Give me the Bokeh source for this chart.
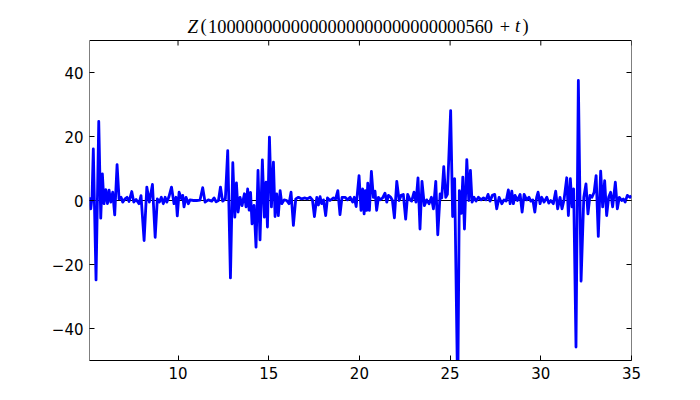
from bokeh.plotting import figure
from bokeh.models import Range1d, Span, Label, FixedTicker, LinearAxis
from bokeh.embed import file_html
from bokeh.resources import INLINE

# values
t_vals = [5.12, 5.19, 5.26, 5.33, 5.48, 5.63, 5.74, 5.83, 5.92, 6.02, 6.11, 6.20, 6.29, 6.40, 6.51, 6.64,
          6.75, 6.86, 6.95, 7.08, 7.19, 7.30, 7.45, 7.56, 7.69, 7.85, 7.96, 8.13, 8.28, 8.42, 8.59, 8.74,
          8.86, 8.97, 9.08, 9.19, 9.29, 9.38, 9.49, 9.64, 9.78, 9.89, 9.96, 10.06, 10.19, 10.26, 10.33,
          10.44, 10.57, 10.66, 10.85, 11.03, 11.21, 11.36, 11.49, 11.67, 11.86, 11.99, 12.10, 12.23, 12.34,
          12.46, 12.61, 12.74, 12.89, 13.02, 13.13, 13.22, 13.31, 13.42, 13.53, 13.66, 13.75, 13.84, 13.92,
          14.00, 14.08, 14.19, 14.30, 14.41, 14.52, 14.65, 14.76, 14.85, 14.93, 15.04, 15.15, 15.26, 15.35,
          15.44, 15.53, 15.63, 15.72, 15.85, 15.99, 16.12, 16.23, 16.36, 16.49, 16.64, 16.82, 17.00, 17.13,
          17.28, 17.41, 17.52, 17.65, 17.74, 17.83, 17.92, 18.02, 18.14, 18.24, 18.38, 18.57, 18.69, 18.81,
          18.93, 19.04, 19.21, 19.34, 19.49, 19.63, 19.72, 19.82, 19.98, 20.09, 20.18, 20.26, 20.33, 20.40,
          20.46, 20.55, 20.66, 20.77, 20.86, 20.95, 21.05, 21.14, 21.28, 21.41, 21.51, 21.60, 21.73, 21.82,
          21.93, 22.06, 22.19, 22.30, 22.42, 22.55, 22.66, 22.79, 22.88, 23.01, 23.12, 23.23, 23.34, 23.45,
          23.58, 23.71, 23.84, 23.97, 24.08, 24.21, 24.32, 24.45, 24.54, 24.65, 24.76, 24.85, 25.03, 25.14,
          25.25, 25.42, 25.51, 25.62, 25.70, 25.79, 25.92, 26.03, 26.12, 26.21, 26.32, 26.43, 26.56, 26.71,
          26.84, 26.98, 27.09, 27.20, 27.33, 27.46, 27.57, 27.70, 27.85, 27.97, 28.09, 28.21, 28.31, 28.40,
          28.49, 28.58, 28.71, 28.86, 28.97, 29.08, 29.22, 29.35, 29.45, 29.56, 29.67, 29.77, 29.85, 29.96,
          30.05, 30.18, 30.33, 30.44, 30.55, 30.69, 30.82, 30.93, 31.06, 31.17, 31.28, 31.43, 31.52, 31.63,
          31.72, 31.81, 31.94, 32.07, 32.22, 32.37, 32.49, 32.60, 32.71, 32.82, 32.94, 33.05, 33.17, 33.30,
          33.41, 33.52, 33.63, 33.74, 33.85, 33.96, 34.11, 34.22, 34.33, 34.46, 34.55, 34.65, 34.77, 34.92,
          35.00]
z_vals = [1.0, -2.6, 1.0, 16.1, -24.8, 24.7, -5.5, 8.3, -1.0, 3.4, -1.0, 3.2, -0.5, 2.6, -4.5, 11.2,
          0.5, 1.0, -0.5, 0.5, 1.0, -0.3, 2.8, -0.5, 0.3, -1.0, 1.5, -12.5, 4.2, -0.5, 5.0, -11.5,
          0.5, -0.5, 1.0, -1.0, 1.0, -0.5, 1.0, 4.2, -1.0, 1.0, -4.8, 2.6, 0.5, 1.6, -2.0,
          1.0, -1.0, 0.2, 0.0, 0.0, 0.1, 4.0, -0.5, 0.2, -0.2, 0.8, -0.4, 0.0, 4.2,
          -0.2, 0.5, 15.6, -24.2, 11.8, -5.2, 5.5, -3.6, 1.0, -1.6, 2.1, -2.0, 3.6, -3.0,
          2.5, -7.3, -1.5, -14.6, 9.4, -12.3, 12.7, -5.2, 5.7, -8.3, 19.8, -2.0, 12.0, -5.0,
          2.1, -4.7, 3.1, -1.0, 0.2, 0.0, -1.0, 2.6, -7.8, 0.5, 1.0, 0.5, 0.8, 0.5,
          1.0, 0.2, -5.0, 1.0, -1.4, 1.2, -1.0, 0.2, -4.7, 0.8, 0.0, 0.8, 0.5, 3.1,
          -4.4, 1.0, 1.0, 0.2, 1.0, -0.5, 1.0, -1.9, 7.8, -3.1, 3.6, -4.2, 3.1, -3.1,
          5.4, -3.1, 9.1, 1.0, 2.9, -3.1, 1.0, 0.2, 0.8, 2.3, -0.5, 1.6, 1.0, 0.0,
          -5.4, 6.0, 0.0, 1.6, 1.9, -5.8, 1.9, 0.2, -0.2, 2.6, -0.5, 7.1, -8.9, 6.0,
          -1.6, 0.2, -1.0, 1.0, -2.6, 6.0, -10.7, 2.1, 0.8, 10.6, 1.0, 1.9, 28.1, -5.0,
          6.8, -62.0, 3.1, -4.0, 7.3, -8.9, 12.8, 0.0, 9.4, -0.5, 1.0, -0.2, 1.0, 0.2,
          0.8, 0.2, 1.9, -0.2, 1.6, 1.9, -2.6, 1.0, -1.0, 0.2, -0.2, 3.3, -1.0, 2.9,
          -1.0, 1.6, 0.0, 1.9, -3.6, 1.9, 0.2, 1.0, -0.2, 0.2, -3.6, 1.0, 2.6, -1.0,
          1.0, -0.5, 1.0, -0.8, 0.0, -1.0, 2.9, -2.6, 1.0, -2.6, 0.2, 7.1, -4.7, 6.8,
          -2.0, 3.6, -45.8, 37.5, -25.2, 1.0, 5.2, -4.2, 1.6, 1.0, 2.6, 7.8, -11.2, 9.2,
          -2.0, 6.2, -4.7, 1.0, 2.6, -2.0, 5.7, -2.6, 1.0, 0.0, 0.5, -0.5, 1.6, 1.0,
          1.5]

x_ticks = [10, 15, 20, 25, 30, 35]
y_ticks = [-40, -20, 0, 20, 40]
x_lim = (5.12, 35.0)
y_lim = (-50.0, 50.0)
title_number = "1" + "0" * 27 + "560"

W, H = 684, 384
frame_left, frame_top_px, frame_bottom_px = 89, 8, 360      # page pixels of the bokeh frame
axes_top_px = 40                                             # page pixel of the drawn box top
px_per_unit = (frame_bottom_px - axes_top_px) / (y_lim[1] - y_lim[0])
y_end = y_lim[0] + (frame_bottom_px - frame_top_px) / px_per_unit

p = figure(width=W, height=H, output_backend="svg", toolbar_location=None,
           x_range=Range1d(*x_lim), y_range=Range1d(y_lim[0], y_end),
           min_border_left=frame_left, min_border_right=53, min_border_top=frame_top_px,
           min_border_bottom=24)
p.background_fill_color = "white"
p.border_fill_color = "white"
p.outline_line_color = None
p.xgrid.visible = False
p.ygrid.visible = False

def style_axis(ax, ticks, labels=True, line=True):
    ax.ticker = FixedTicker(ticks=ticks)
    ax.axis_line_color = "black" if line else None
    ax.major_tick_in = 5
    ax.major_tick_out = 0
    ax.minor_tick_in = 0
    ax.minor_tick_out = 0
    ax.major_tick_line_color = "black"
    ax.major_label_text_font = "DejaVu Sans"
    ax.major_label_text_font_size = "15px"
    ax.major_label_text_color = "black" if labels else None
    ax.major_label_standoff = 6

style_axis(p.xaxis[0], x_ticks)
style_axis(p.yaxis[0], y_ticks, line=False)
right = LinearAxis()
style_axis(right, y_ticks, labels=False, line=False)
p.add_layout(right, "right")

# axes box and top ticks (the frame extends above the box to hold the title)
p.quad(left=[x_lim[0]], right=[x_lim[1]], bottom=[y_lim[0]], top=[y_lim[1]],
       fill_color=None, line_color="black", line_width=1)
tick_len = 5 / px_per_unit
p.segment(x0=x_ticks, y0=[y_lim[1]] * len(x_ticks), x1=x_ticks,
          y1=[y_lim[1] - tick_len] * len(x_ticks), line_color="black", line_width=1)

p.add_layout(Span(location=0, dimension="width", line_color="black", line_width=1, level="underlay"))
p.line(t_vals, z_vals, line_color="#0000ff", line_width=2.8, line_join="round")

# title composed of pieces (italic variables); screen units are relative to the plot frame
base_y = frame_bottom_px - 25.6
pieces = [("Z", 187.0, "italic", "left", "19px"), ("(", 200.0, "normal", "left", "18.4px"),
          (title_number, 207.5, "normal", "left", "18.4px"), ("+", 504.5, "normal", "center", "18.4px"),
          ("t", 514.5, "italic", "left", "18.4px"), (")", 522.0, "normal", "left", "18.4px")]
for txt, px, style, align, fs in pieces:
    p.add_layout(Label(x=px - frame_left, y=base_y, x_units="screen", y_units="screen", text=txt,
                       text_font="Liberation Serif", text_font_size=fs, text_font_style=style,
                       text_color="black", text_baseline="alphabetic", text_align=align))

open("out.html", "w").write(file_html(p, INLINE))
